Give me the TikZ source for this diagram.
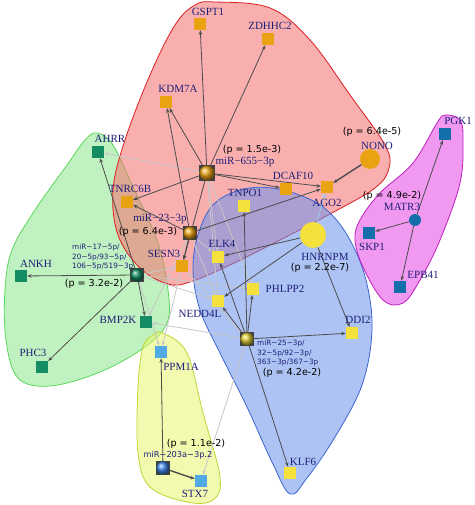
\documentclass[tikz,border=0pt]{standalone}
\usepackage{fontspec}
\setmainfont{Liberation Serif}
\newfontfamily\dvs{DejaVu Sans}
\usetikzlibrary{arrows.meta,shapes.geometric}
\pgfdeclarelayer{bg}\pgfdeclarelayer{edges}
\pgfsetlayers{bg,edges,main}
\definecolor{cOr}{RGB}{232,162,18}
\definecolor{cYe}{RGB}{245,225,60}
\definecolor{cTe}{RGB}{20,140,100}
\definecolor{cLb}{RGB}{80,170,230}
\definecolor{cDb}{RGB}{20,110,170}
\definecolor{cNavy}{RGB}{30,30,120}
\definecolor{hRed}{RGB}{245,110,110}
\definecolor{hRedB}{RGB}{220,30,30}
\definecolor{hBlu}{RGB}{105,145,235}
\definecolor{hBluB}{RGB}{60,100,210}
\definecolor{hGrn}{RGB}{140,230,140}
\definecolor{hGrnB}{RGB}{90,215,90}
\definecolor{hYel}{RGB}{230,245,110}
\definecolor{hYelB}{RGB}{190,215,50}
\definecolor{hMag}{RGB}{230,70,230}
\definecolor{hMagB}{RGB}{190,30,190}
\tikzset{
  gene/.style={draw=none, minimum size=12pt, inner sep=0pt},
  osq/.style={gene, fill=cOr},
  ysq/.style={gene, fill=cYe},
  tsq/.style={gene, fill=cTe},
  lsq/.style={gene, fill=cLb},
  bsq/.style={gene, fill=cDb},
  mir/.style={minimum size=14pt, inner sep=0pt, fill=black!75},
  lbl/.style={text=cNavy, font=\fontsize{11}{12}\selectfont, inner sep=0pt},
  pv/.style={font=\dvs\fontsize{9.6}{11}\selectfont, inner sep=0pt},
  mirs/.style={text=cNavy, font=\dvs\fontsize{7.3}{9.3}\selectfont, align=left, inner sep=0pt},
  dk/.style={draw=black!70, line width=0.8pt, -{Stealth[length=4.5pt,width=3.5pt]}},
  lt/.style={draw=black!22, line width=0.8pt, -{Stealth[length=4.5pt,width=3.5pt]}},
  hull/.style={line width=0.8pt, fill opacity=0.55},
}
\begin{document}
\begin{tikzpicture}[x=1pt,y=-1pt]
\useasboundingbox (0,0) rectangle (474,505);
% hulls
\begin{pgfonlayer}{bg}
\draw[hull, draw=hGrnB, fill=hGrn] plot[smooth cycle, tension=0.6] coordinates{(97,133) (113,145) (133,187) (157,240) (168,290) (167,323) (145,347) (100,372) (50,386) (18,378) (6,340) (5,290) (12,250) (35,210) (67,165) (85,140)};
\draw[hull, draw=hRedB, fill=hRed] plot[smooth cycle, tension=0.6] coordinates{(195,5) (215,2) (270,8) (310,40) (350,95) (385,145) (389,168) (375,188) (330,214) (280,240) (230,265) (190,282) (168,284) (140,268) (118,235) (113,190) (125,140) (150,75) (175,25)};
\draw[hull, draw=hBluB, fill=hBlu] plot[smooth cycle, tension=0.6] coordinates{(213,205) (240,190) (272,188) (307,198) (330,213) (350,240) (366,280) (372,330) (362,385) (335,437) (307,478) (290,494) (272,462) (247,407) (220,353) (200,310) (193,270) (198,235)};
\draw[hull, draw=hYelB, fill=hYel] plot[smooth cycle, tension=0.6] coordinates{(163,333) (187,353) (203,413) (220,477) (213,500) (187,502) (150,487) (138,453) (138,387) (143,347) (153,335)};
\draw[hull, draw=hMagB, fill=hMag] plot[smooth cycle, tension=0.6] coordinates{(445,115) (460,120) (463,140) (460,183) (440,240) (420,280) (403,303) (383,300) (363,267) (355,240) (360,220) (380,193) (413,163) (437,123)};
\end{pgfonlayer}
% gene nodes
\node[osq] (gspt1) at (200,24) {};
\node[osq] (zdhhc2) at (268,39) {};
\node[osq] (kdm7a) at (166,102) {};
\node[osq] (tnrc6b) at (127,202) {};
\node[osq] (dcaf10) at (286,189) {};
\node[osq] (ago2) at (327,187) {};
\node[osq] (sesn3) at (182,266) {};
\node[circle, fill=cOr, minimum size=20pt, inner sep=0pt] (nono) at (370,159) {};
\node[ysq] (elk4) at (218,257) {};
\node[ysq] (tnpo1) at (244,206) {};
\node[ysq] (phlpp2) at (253,289) {};
\node[ysq] (nedd4l) at (218,301) {};
\node[ysq] (ddi2) at (352,333) {};
\node[ysq] (klf6) at (290,473) {};
\node[circle, fill=cYe, minimum size=26pt, inner sep=0pt] (hnrnpm) at (313,235) {};
\node[tsq] (ahrr) at (98,152) {};
\node[tsq] (ankh) at (21,276) {};
\node[tsq] (phc3) at (42,367) {};
\node[tsq] (bmp2k) at (146,322) {};
\node[lsq] (ppm1a) at (161,352) {};
\node[lsq] (stx7) at (201,481) {};
\node[bsq] (pgk1) at (445,134) {};
\node[bsq] (skp1) at (369,233) {};
\node[bsq] (epb41) at (400,287) {};
\node[circle, fill=cDb, minimum size=12pt, inner sep=0pt] (matr3) at (415,220) {};
% miRNA nodes
\node[mir, minimum size=16pt] (m655) at (207,173) {};
\shade[ball color=cOr] (m655.center) circle (7.5pt);
\node[mir] (m23) at (190,233) {};
\shade[ball color=cOr] (m23.center) circle (6.5pt);
\node[mir] (m25) at (247,339) {};
\shade[ball color=cYe!90!black] (m25.center) circle (6.5pt);
\node[mir] (m17) at (137,275) {};
\shade[ball color=cTe] (m17.center) circle (6.5pt);
\node[mir] (m203) at (163,468) {};
\shade[ball color=cLb!80!blue] (m203.center) circle (6.5pt);
% labels
\node[lbl] (lgspt1) at (208,12) {GSPT1};
\node[lbl] (lzdhhc2) at (270,26) {ZDHHC2};
\node[lbl] (lkdm7a) at (178,89) {KDM7A};
\node[lbl] (lahrr) at (110,139) {AHRR};
\node[lbl] (ltnrc6b) at (130,189) {TNRC6B};
\node[pv] (p655) at (252,150) {(p = 1.5e-3)};
\node[lbl] (l655) at (245,162) {miR−655−3p};
\node[lbl] (ldcaf10) at (293,176) {DCAF10};
\node[lbl] (lago2) at (327,203) {AGO2};
\node[pv] (pnono) at (372,132) {(p = 6.4e-5)};
\node[lbl] (lnono) at (377,146) {NONO};
\node[pv] (pmatr3) at (392,196) {(p = 4.9e-2)};
\node[lbl] (lmatr3) at (402,207) {MATR3};
\node[lbl] (lpgk1) at (458,121) {PGK1};
\node[lbl] (lskp1) at (372,247) {SKP1};
\node[lbl] (lepb41) at (423,275) {EPB41};
\node[lbl] (ltnpo1) at (245,193) {TNPO1};
\node[lbl] (l23) at (160,219) {miR−23−3p};
\node[pv] (p23) at (148,232) {(p = 6.4e-3)};
\node[lbl] (lsesn3) at (164,254) {SESN3};
\node[lbl] (lelk4) at (222,244) {ELK4};
\node[lbl] (lhnrnpm) at (325,257) {HNRNPM};
\node[pv] (phnrnpm) at (320,268) {(p = 2.2e-7)};
\node[mirs, anchor=west] (l17) at (72,257) {miR−17−5p/\\20−5p/93−5p/\\106−5p/519−3p};
\node[pv] (p17) at (94,284) {(p = 3.2e-2)};
\node[lbl] (lankh) at (36,264) {ANKH};
\node[lbl] (lphc3) at (33,353) {PHC3};
\node[lbl] (lbmp2k) at (118,320) {BMP2K};
\node[lbl] (lphlpp2) at (285,289) {PHLPP2};
\node[lbl] (lnedd4l) at (200,314) {NEDD4L};
\node[mirs, anchor=west] (l25) at (257,353) {miR−25−3p/\\32−5p/92−3p/\\363−3p/367−3p};
\node[pv] (p25) at (292,373) {(p = 4.2e-2)};
\node[lbl] (lddi2) at (358,320) {DDI2};
\node[lbl] (lppm1a) at (181,367) {PPM1A};
\node[pv] (p203) at (196,444) {(p = 1.1e-2)};
\node[mirs, font=\dvs\fontsize{8.2}{9}\selectfont] (l203) at (178,455) {miR−203a−3p.2};
\node[lbl] (lklf6) at (303,462) {KLF6};
\node[lbl] (lstx7) at (195,494) {STX7};
% edges
\begin{pgfonlayer}{edges}
% light edges
\draw[lt] (m655) -- (ahrr);
\draw[lt] (m655) -- (elk4);
\draw[lt] (m655) -- (nedd4l);
\draw[lt] (m655) -- (phlpp2);
\draw[lt] (m23) -- (nedd4l);
\draw[lt] (m23) -- (ppm1a);
\draw[lt] (m23) -- (bmp2k);
\draw[lt] (m23) -- (elk4);
\draw[lt] (m17) -- (sesn3);
\draw[lt] (m17) -- (nedd4l);
\draw[lt] (m17) -- (phlpp2);
\draw[lt] (m17) -- (ppm1a);
\draw[lt] (m25) -- (bmp2k);
\draw[lt] (m25) -- (stx7);
\draw[lt] (m25) -- (sesn3);
\draw[lt, draw=cLb!60!white] (hnrnpm) -- (ago2);
% dark edges
\draw[dk] (m655) -- (gspt1);
\draw[dk] (m655) -- (zdhhc2);
\draw[dk] (m655) -- (kdm7a);
\draw[dk] (m655) -- (tnrc6b);
\draw[dk] (m655) -- (dcaf10);
\draw[dk] (m655) -- (ago2);
\draw[dk] (m655) -- (sesn3);
\draw[dk] (m23) -- (kdm7a);
\draw[dk] (m23) -- (tnrc6b);
\draw[dk] (m23) -- (sesn3);
\draw[dk] (m23) -- (ago2);
\draw[dk, line width=1.4pt] (nono) -- (ago2);
\draw[dk] (hnrnpm) -- (elk4);
\draw[dk] (hnrnpm) -- (nedd4l);
\draw[dk] (hnrnpm) -- (ddi2);
\draw[dk] (matr3) -- (pgk1);
\draw[dk] (matr3) -- (skp1);
\draw[dk] (matr3) -- (epb41);
\draw[dk] (m17) -- (ahrr);
\draw[dk] (m17) -- (ankh);
\draw[dk] (m17) -- (phc3);
\draw[dk] (m17) -- (bmp2k);
\draw[dk] (m25) -- (tnpo1);
\draw[dk] (m25) -- (elk4);
\draw[dk] (m25) -- (phlpp2);
\draw[dk] (m25) -- (nedd4l);
\draw[dk] (m25) -- (ddi2);
\draw[dk] (m25) -- (klf6);
\draw[dk] (m203) -- (ppm1a);
\draw[dk, line width=1.4pt] (m203) -- (stx7);
\end{pgfonlayer}
\end{tikzpicture}
\end{document}
